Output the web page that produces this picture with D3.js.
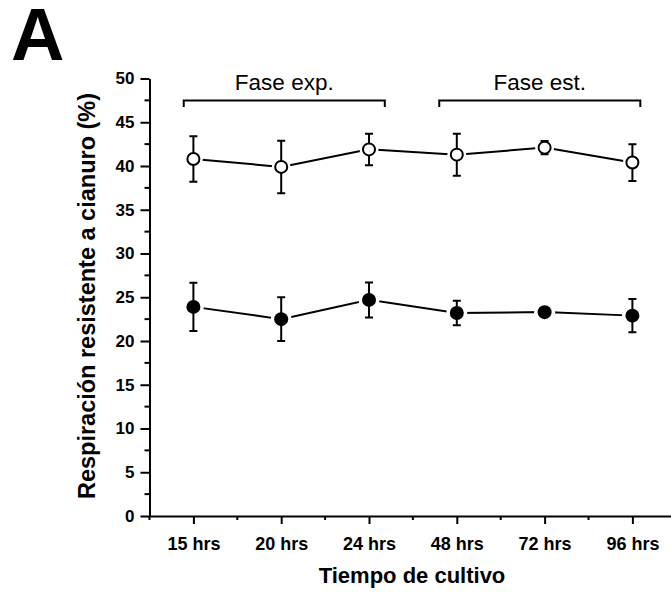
<!DOCTYPE html>
<html>
<head>
<meta charset="utf-8">
<script src="https://cdn.jsdelivr.net/npm/d3@7"></script>
<style>
    body { margin: 0; background: #fff; }
    svg { display: block; font-family: "Liberation Sans", Arial, sans-serif; }
</style>
</head>
<body>
<div id="chart"></div>
<script>
// Data
const categories = ["15 hrs", "20 hrs", "24 hrs", "48 hrs", "72 hrs", "96 hrs"];
const openMean = [40.8, 39.9, 41.9, 41.3, 42.1, 40.4];
const openErr = [2.6, 3.0, 1.8, 2.4, 0.75, 2.1];
const filledMean = [23.9, 22.5, 24.7, 23.2, 23.3, 22.9];
const filledErr = [2.75, 2.5, 2.0, 1.4, 0.2, 1.9];
const yTicks = [0, 5, 10, 15, 20, 25, 30, 35, 40, 45, 50];
const phases = [
    { label: "Fase exp.", from: -0.11, to: 2.18 },
    { label: "Fase est.", from: 2.8, to: 5.09 }
];

const width = 671, height = 592;

const svg = d3.select("#chart")
    .append("svg")
    .attr("width", width)
    .attr("height", height);

// Scales
const x = d3.scaleLinear()
    .domain([-0.5, 5.5])
    .range([149.5, 676.3]);

const y = d3.scaleLinear()
    .domain([0, 50])
    .range([516, 78.5]);

// Y axis
const yAxis = svg.append("g")
    .attr("transform", `translate(${x(-0.5)},0)`)
    .call(d3.axisLeft(y).tickValues(yTicks).tickSize(9).tickPadding(6).tickSizeOuter(0));
yAxis.select(".domain").attr("stroke-width", 2);
yAxis.selectAll(".tick line").attr("stroke-width", 2);
yAxis.selectAll("text")
    .style("font-size", "17px")
    .style("font-weight", "bold")
    .attr("fill", "#000");

// Minor y ticks
svg.append("g")
    .selectAll("line")
    .data(d3.range(2.5, 50, 5))
    .enter().append("line")
    .attr("x1", x(-0.5) - 5)
    .attr("x2", x(-0.5))
    .attr("y1", d => y(d))
    .attr("y2", d => y(d))
    .attr("stroke", "#000")
    .attr("stroke-width", 2);

// X axis
const xAxis = svg.append("g")
    .attr("transform", `translate(0,${y(0)})`)
    .call(d3.axisBottom(x)
        .tickValues(d3.range(categories.length))
        .tickFormat(i => categories[i])
        .tickSize(8)
        .tickPadding(13)
        .tickSizeOuter(0));
xAxis.select(".domain").attr("stroke-width", 2);
xAxis.selectAll(".tick line").attr("stroke-width", 2);
xAxis.selectAll("text")
    .style("font-size", "18px")
    .style("font-weight", "bold")
    .attr("fill", "#000");

// Minor x ticks
svg.append("g")
    .selectAll("line")
    .data(d3.range(-0.5, 5.6, 1))
    .enter().append("line")
    .attr("x1", d => x(d))
    .attr("x2", d => x(d))
    .attr("y1", y(0))
    .attr("y2", y(0) + 4)
    .attr("stroke", "#000")
    .attr("stroke-width", 2);

// Axis titles
svg.append("text")
    .attr("x", 412)
    .attr("y", 583)
    .attr("text-anchor", "middle")
    .style("font-size", "22px")
    .style("font-weight", "bold")
    .text("Tiempo de cultivo");

svg.append("text")
    .attr("transform", "translate(95,296) rotate(-90)")
    .attr("text-anchor", "middle")
    .style("font-size", "23.5px")
    .style("font-weight", "bold")
    .text("Respiración resistente a cianuro (%)");

// Panel letter
svg.append("text")
    .attr("x", 11)
    .attr("y", 60)
    .style("font-size", "74px")
    .style("font-weight", "bold")
    .text("A");

// Phase brackets
const brackets = svg.append("g");
phases.forEach(p => {
    brackets.append("path")
        .attr("d", `M${x(p.from)},${107} V${100.5} H${x(p.to)} V${107}`)
        .attr("fill", "none")
        .attr("stroke", "#000")
        .attr("stroke-width", 2);
    brackets.append("text")
        .attr("x", (x(p.from) + x(p.to)) / 2)
        .attr("y", 90)
        .attr("text-anchor", "middle")
        .style("font-size", "22.5px")
        .text(p.label);
});

// Draw one series: line, white halos, error bars, markers
function drawSeries(means, errs, filled) {
    const r = filled ? 7 : 6;
    const pts = means.map((m, i) => ({ i: i, m: m, e: errs[i] }));
    const g = svg.append("g");

    g.append("path")
        .datum(pts)
        .attr("fill", "none")
        .attr("stroke", "#000")
        .attr("stroke-width", 2)
        .attr("d", d3.line().x(d => x(d.i)).y(d => y(d.m)));

    g.selectAll(".halo")
        .data(pts)
        .enter().append("circle")
        .attr("class", "halo")
        .attr("cx", d => x(d.i))
        .attr("cy", d => y(d.m))
        .attr("r", r + 3.5)
        .attr("fill", "#fff");

    g.selectAll(".err")
        .data(pts)
        .enter().append("path")
        .attr("class", "err")
        .attr("fill", "none")
        .attr("stroke", "#000")
        .attr("stroke-width", 2)
        .attr("d", d => {
            const cx = x(d.i), t = y(d.m + d.e), b = y(d.m - d.e);
            return `M${cx - 4},${t} H${cx + 4} M${cx},${t} V${b} M${cx - 4},${b} H${cx + 4}`;
        });

    g.selectAll(".marker")
        .data(pts)
        .enter().append("circle")
        .attr("class", "marker")
        .attr("cx", d => x(d.i))
        .attr("cy", d => y(d.m))
        .attr("r", r)
        .attr("fill", filled ? "#000" : "#fff")
        .attr("stroke", "#000")
        .attr("stroke-width", filled ? 0 : 2);
}

drawSeries(openMean, openErr, false);
drawSeries(filledMean, filledErr, true);
</script>
</body>
</html>
